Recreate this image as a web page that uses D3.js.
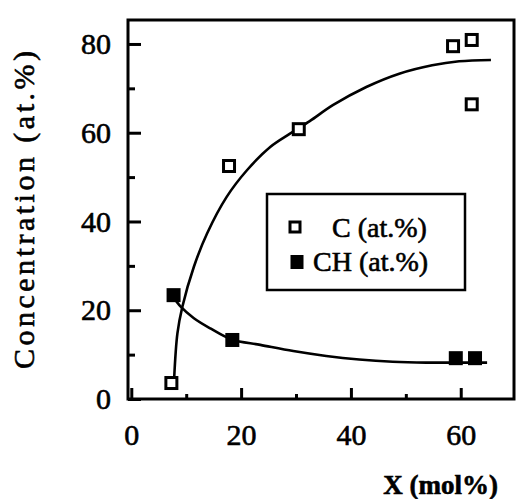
<!DOCTYPE html>
<html>
<head>
<meta charset="utf-8">
<script src="https://cdn.jsdelivr.net/npm/d3@7"></script>
<style>
  html, body { margin: 0; padding: 0; background: #fff; }
  svg { display: block; }
  svg text { fill: #000; stroke: #000; stroke-width: 0.6px; }
</style>
</head>
<body>
<svg id="chart" width="519" height="499"></svg>
<script>
// Measured composition: C and CH atomic concentration vs X (mol%)
const cX = [7.3, 17.8, 30.5, 58.6, 62.0, 62.0];
const cY = [3.6, 52.5, 60.8, 79.5, 80.9, 66.4];
const chX = [7.7, 18.4, 59.1, 62.6];
const chY = [23.4, 13.3, 9.2, 9.2];

// Hand-drawn trend curves through each series
const cCurveX = [7.8, 8.4, 9.3, 11.4, 13.8, 17.4, 21.1, 25.3, 28.9, 32.5, 36.7, 42.8, 48.8, 54.8, 59.7, 65.5];
const cCurveY = [4.5, 14.8, 20.8, 29.8, 37.3, 45.6, 51.6, 56.8, 59.8, 62.6, 66.2, 70.3, 73.3, 75.2, 76.1, 76.4];
const chCurveX = [7.5, 9.0, 11.4, 14.4, 18.3, 23.5, 29.5, 35.5, 41.5, 47.6, 53.7, 59.7, 64.8];
const chCurveY = [23.2, 20.8, 18.2, 15.9, 13.4, 12.2, 10.8, 9.7, 8.9, 8.4, 8.2, 8.2, 8.2];

// Axis ticks and labels
const xMajorTicks = [0, 20, 40, 60];
const xMinorTicks = [10, 30, 50];
const yMajorTicks = [0, 20, 40, 60, 80];
const yMinorTicks = [10, 30, 50, 70];
const yTitle = "Concentration (at.%)";
const xTitle = "X (mol%)";
const legendLabels = ["C (at.%)", "CH (at.%)"];

const serif = "Liberation Serif";
const svg = d3.select("#chart");

const x = d3.scaleLinear().domain([-0.6, 69.7]).range([128, 514]);
const y = d3.scaleLinear().domain([0, 85.4]).range([399, 20]);

// Frame
svg.append("rect")
  .attr("x", x.range()[0]).attr("y", y.range()[1])
  .attr("width", x.range()[1] - x.range()[0])
  .attr("height", y.range()[0] - y.range()[1])
  .attr("fill", "none").attr("stroke", "#000").attr("stroke-width", 3);

function styleAxis(g) {
  g.attr("font-family", serif).attr("font-size", 30);
  g.select(".domain").remove();
  g.selectAll(".tick line").attr("stroke", "#000").attr("stroke-width", 3);
}

// Bottom axis: inward ticks
svg.append("g").attr("transform", `translate(0,${y(0)})`)
  .call(d3.axisBottom(x).tickValues(xMajorTicks).tickSize(-11).tickSizeOuter(0).tickPadding(25).tickFormat(d3.format("d")))
  .call(styleAxis);
svg.append("g").attr("transform", `translate(0,${y(0)})`)
  .call(d3.axisBottom(x).tickValues(xMinorTicks).tickSize(-5).tickSizeOuter(0).tickFormat(""))
  .call(styleAxis);

// Left axis: inward ticks
svg.append("g").attr("transform", `translate(${x.range()[0]},0)`)
  .call(d3.axisLeft(y).tickValues(yMajorTicks).tickSize(-13).tickSizeOuter(0).tickPadding(17).tickFormat(d3.format("d")))
  .call(styleAxis);
svg.append("g").attr("transform", `translate(${x.range()[0]},0)`)
  .call(d3.axisLeft(y).tickValues(yMinorTicks).tickSize(-7).tickSizeOuter(0).tickFormat(""))
  .call(styleAxis);

// Axis titles
svg.append("text")
  .attr("transform", "translate(34,210) rotate(-90)")
  .attr("text-anchor", "middle")
  .attr("font-family", serif).attr("font-size", 30)
  .attr("textLength", 318).attr("lengthAdjust", "spacing")
  .text(yTitle);

svg.append("text")
  .attr("x", 498).attr("y", 494)
  .attr("text-anchor", "end")
  .attr("font-family", serif).attr("font-size", 27).attr("font-weight", "bold")
  .text(xTitle);

// Trend curves
const line = d3.line().x(d => x(d[0])).y(d => y(d[1])).curve(d3.curveCatmullRom.alpha(0.5));
const curveStyle = p => p.attr("fill", "none").attr("stroke", "#000").attr("stroke-width", 2.6);

svg.append("path").datum(d3.zip(cCurveX, cCurveY)).attr("d", line).call(curveStyle);
svg.append("path").datum(d3.zip(chCurveX, chCurveY)).attr("d", line).call(curveStyle);

// Markers
const openSize = 11, fillSize = 14;
svg.append("g").selectAll("rect")
  .data(d3.zip(cX, cY)).join("rect")
  .attr("x", d => x(d[0]) - openSize / 2).attr("y", d => y(d[1]) - openSize / 2)
  .attr("width", openSize).attr("height", openSize)
  .attr("fill", "#fff").attr("stroke", "#000").attr("stroke-width", 3);

svg.append("g").selectAll("rect")
  .data(d3.zip(chX, chY)).join("rect")
  .attr("x", d => x(d[0]) - fillSize / 2).attr("y", d => y(d[1]) - fillSize / 2)
  .attr("width", fillSize).attr("height", fillSize)
  .attr("fill", "#000");

// Legend
const lg = svg.append("g");
lg.append("rect").attr("x", 267).attr("y", 194).attr("width", 198).attr("height", 96)
  .attr("fill", "#fff").attr("stroke", "#000").attr("stroke-width", 2.5);
lg.append("rect").attr("x", 295 - 5).attr("y", 227 - 5).attr("width", 10).attr("height", 10)
  .attr("fill", "#fff").attr("stroke", "#000").attr("stroke-width", 3);
lg.append("rect").attr("x", 297 - 6.5).attr("y", 262 - 7).attr("width", 13).attr("height", 14)
  .attr("fill", "#000");
lg.append("text").attr("x", 332).attr("y", 237).attr("font-family", serif).attr("font-size", 28).text(legendLabels[0]);
lg.append("text").attr("x", 313).attr("y", 271).attr("font-family", serif).attr("font-size", 28).text(legendLabels[1]);
</script>
</body>
</html>
